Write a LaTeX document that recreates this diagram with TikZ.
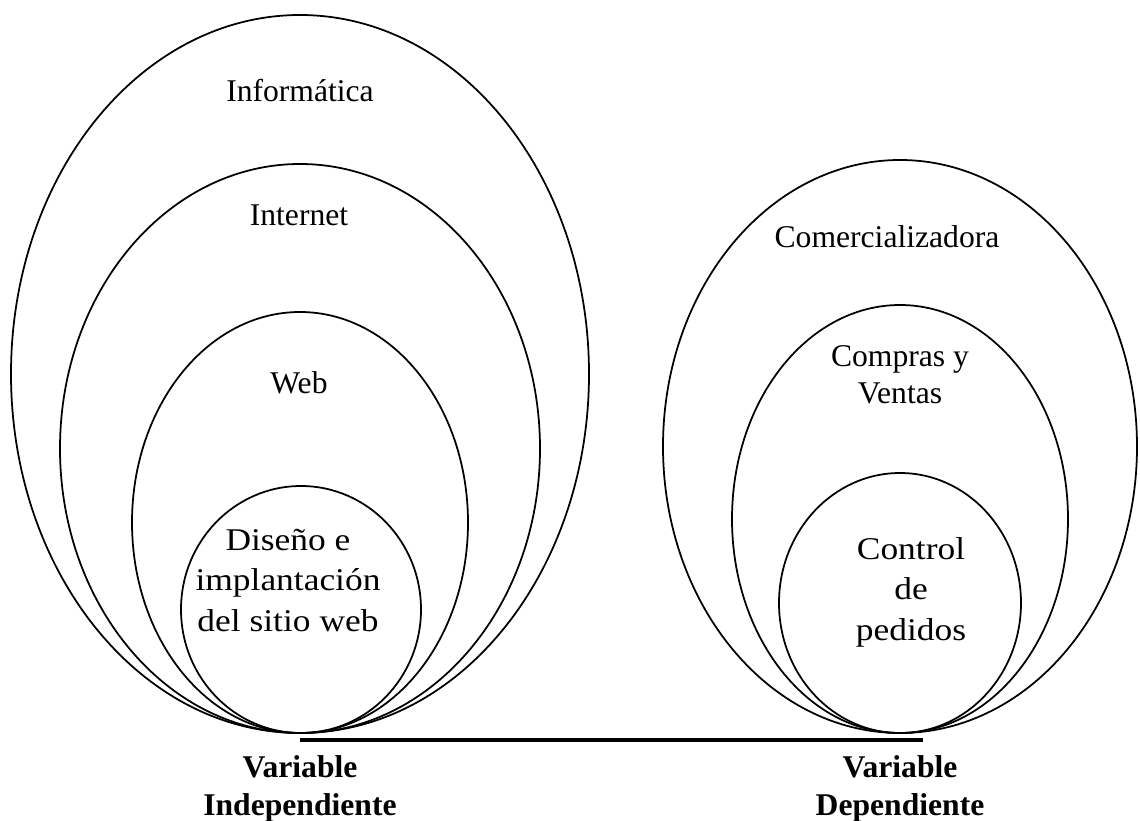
\documentclass[tikz,border=0pt]{standalone}
\usepackage{fontspec}
\setmainfont{Liberation Serif}
\newfontfamily\widefont{Liberation Serif}[FakeStretch=1.12]
\usepackage{tikz}
\usetikzlibrary{positioning}

\begin{document}
\begin{tikzpicture}[x=0.02cm, y=-0.02cm,
    ring/.style={draw=black, line width=1pt},
    baseline/.style={draw=black, line width=2.3pt},
    lbl/.style={font=\fontsize{18}{22.8}\selectfont, align=center, anchor=base, inner sep=0pt},
    widelbl/.style={lbl, font=\widefont\fontsize{18}{22.8}\selectfont},
    varlbl/.style={lbl, font=\bfseries\fontsize{18}{21.6}\selectfont}]
    \useasboundingbox (0,0) rectangle (1140,821);

    % Nested ellipses, independent variable
    \draw[ring] (300,374) ellipse [x radius=289, y radius=359];
    \draw[ring] (300,448.5) ellipse [x radius=240, y radius=284.5];
    \draw[ring] (300,522.5) ellipse [x radius=168, y radius=210.5];
    \draw[ring] (301,609.5) ellipse [x radius=120, y radius=123.5];

    % Nested ellipses, dependent variable
    \draw[ring] (900,446.5) ellipse [x radius=237, y radius=286.5];
    \draw[ring] (900,519) ellipse [x radius=168, y radius=214];
    \draw[ring] (900,603) ellipse [x radius=121, y radius=130];

    % Labels inside the ellipses (base = last line)
    \node[lbl] (informatica) at (300,102) {Informática};
    \node[lbl] (internet) at (299,225) {Internet};
    \node[lbl] (web) at (299,393) {Web};
    \node[widelbl] (diseno) at (288,631) {Diseño e\\implantación\\del sitio web};
    \node[lbl] (comercial) at (887,247) {Comercializadora};
    \node[lbl, font=\fontsize{18}{20.5}\selectfont] (compras) at (900,403) {Compras y\\Ventas};
    \node[widelbl] (control) at (911,640) {Control\\de\\pedidos};

    % Line joining both variables
    \coordinate (vi) at (300,740);
    \coordinate (vd) at (923,740);
    \draw[baseline] (vi) -- (vd);

    \node[varlbl] (indep) at (300,815) {Variable\\Independiente};
    \node[varlbl] (dep) at (900,815) {Variable\\Dependiente};
\end{tikzpicture}
\end{document}
